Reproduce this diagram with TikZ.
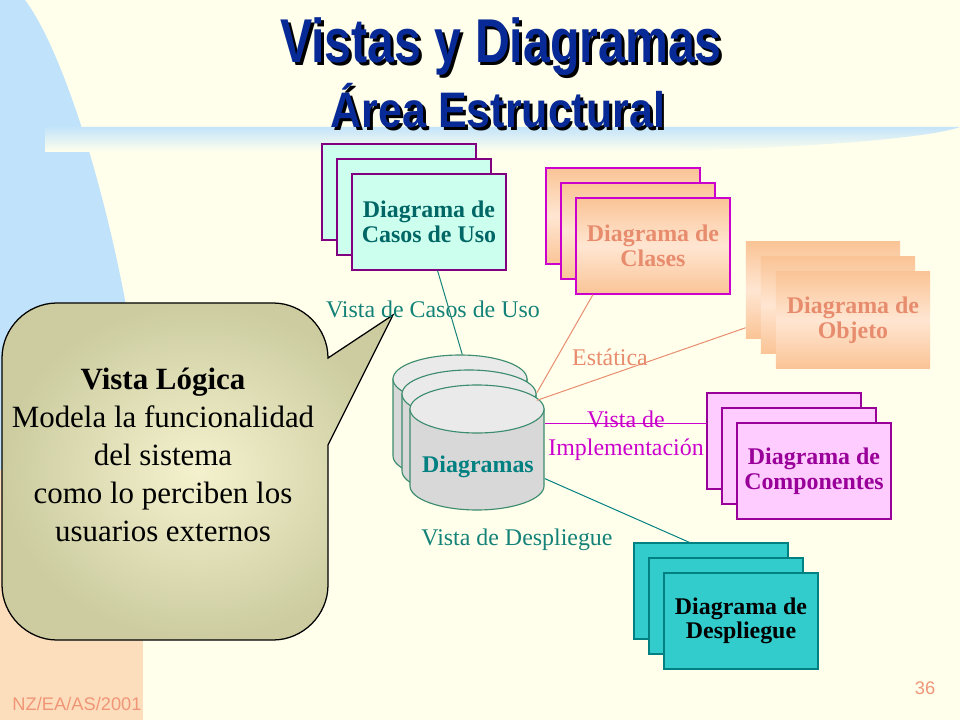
\documentclass[tikz,border=0pt]{standalone}
\usepackage{fontspec}
\setmainfont{Liberation Serif}
\newfontfamily\titlefont{Liberation Sans}
\definecolor{bgcream}{RGB}{255,255,236}
\definecolor{sideblue}{RGB}{192,226,250}
\definecolor{sidepeach}{RGB}{253,222,188}
\definecolor{bandblue}{RGB}{196,228,250}
\definecolor{titleblue}{RGB}{8,42,150}
\definecolor{bubdark}{RGB}{204,204,160}
\definecolor{bublight}{RGB}{244,242,206}
\definecolor{usofill}{RGB}{204,255,238}
\definecolor{usotext}{RGB}{0,102,102}
\definecolor{boxpurple}{RGB}{128,0,128}
\definecolor{clapeach}{RGB}{250,196,150}
\definecolor{clalight}{RGB}{255,230,210}
\definecolor{clatext}{RGB}{232,140,110}
\definecolor{claline}{RGB}{204,0,204}
\definecolor{compink}{RGB}{255,204,255}
\definecolor{comtext}{RGB}{153,0,153}
\definecolor{desteal}{RGB}{51,204,204}
\definecolor{desline}{RGB}{0,128,128}
\definecolor{vistateal}{RGB}{20,130,120}
\definecolor{cylline}{RGB}{60,140,110}
\definecolor{cylbody}{RGB}{216,216,216}
\definecolor{cylend}{RGB}{234,234,234}
\definecolor{salmon}{RGB}{240,150,120}
\newcommand{\shadowtext}[1]{\rlap{\kern2.1pt\raisebox{-2.1pt}{\color{black}#1}}#1}

\begin{document}
\begin{tikzpicture}[x=0.025cm, y=-0.025cm,
    stackbox/.style={minimum width=3.85cm, minimum height=2.4cm, inner sep=0pt, align=center,
      font=\fontsize{17}{17.5}\selectfont\bfseries},
    usobox/.style={stackbox, fill=usofill, draw=boxpurple, line width=0.9pt, text=usotext},
    clabox/.style={stackbox, top color=clapeach, bottom color=clapeach, middle color=clalight,
      draw=claline, line width=0.9pt, text=clatext},
    objbox/.style={stackbox, top color=clapeach, bottom color=clapeach, middle color=clalight, text=clatext},
    combox/.style={stackbox, fill=compink, draw=comtext, line width=0.9pt, text=comtext},
    desbox/.style={stackbox, fill=desteal, draw=desline, line width=0.9pt, text=black},
    cylframe/.style={minimum width=3.375cm, minimum height=3.125cm, inner sep=0pt},
    cylpaint/.style={draw=cylline, fill=cylbody, line width=0.8pt},
    vista/.style={font=\fontsize{17}{20}\selectfont, align=center, inner sep=0pt},
    heading/.style={anchor=base, inner sep=0pt, text=titleblue},
    link/.style={line width=0.7pt},
  ]
  \useasboundingbox (0,0) rectangle (960,720);
  \fill[bgcream] (0,0) rectangle (960,720);
  \fill[sideblue] (0,0) -- (25,0) .. controls (70,60) and (125,250) .. (143,420) -- (143,480) -- (0,480) -- cycle;
  \fill[sidepeach] (0,470) rectangle (143,720);
  \shade[top color=bandblue, bottom color=bgcream] (45,127) -- (960,127)
    .. controls (930,138) and (800,150) .. (600,152) -- (45,152) -- cycle;

  \node[heading, font=\titlefont\bfseries\fontsize{44}{50}\selectfont] (title) at (501,63)
    {\shadowtext{\scalebox{0.78}[1]{Vistas y Diagramas}}};
  \node[heading, font=\titlefont\bfseries\fontsize{35.5}{40}\selectfont] (subtitle) at (498,128)
    {\shadowtext{\scalebox{0.86}[1]{Área Estructural}}};

  \draw[line width=0.9pt, inner color=bublight, outer color=bubdark]
    (393,315) -- (328,445) -- (328,585) .. controls (328,615) and (303,640) .. (273,640)
    -- (57,640) .. controls (27,640) and (2,615) .. (2,585)
    -- (2,358) .. controls (2,328) and (27,303) .. (57,303)
    -- (273,303) .. controls (303,303) and (328,328) .. (328,358) -- cycle;
  \node[align=center, font=\fontsize{22}{27}\selectfont] (logica) at (163,455)
    {\textbf{Vista Lógica}\\Modela la funcionalidad\\del sistema\\como lo perciben los\\usuarios externos};

  \foreach \i/\d in {1/0,2/15} {
    \node[usobox] (uso\i) at (399+\d,192+\d) {};
    \node[clabox] (cla\i) at (623+\d,216+\d) {};
    \node[objbox] (obj\i) at (823+\d,290+\d) {};
    \node[combox] (com\i) at (784+\d,441+\d) {};
    \node[desbox] (des\i) at (711+\d,591+\d) {};
  }
  \node[usobox] (uso3) at (429,222) {Diagrama de\\Casos de Uso};
  \node[clabox] (cla3) at (653,246) {Diagrama de\\Clases};
  \node[objbox] (obj3) at (853,320) {Diagrama de\\Objeto};
  \node[combox] (com3) at (814,471) {Diagrama de\\Componentes};
  \node[desbox] (des3) at (741,621) {Diagrama de\\Despliegue};

  \foreach \x/\y [count=\i] in {460/417,469/432,477/447} {
    \node[cylframe] (cyl\i) at (\x,\y) {};
    \filldraw[cylpaint] (\x-67,\y-38) -- (\x-67,\y+39)
      .. controls (\x-67,\y+52) and (\x-37,\y+63) .. (\x,\y+63)
      .. controls (\x+37,\y+63) and (\x+67,\y+52) .. (\x+67,\y+39) -- (\x+67,\y-38) -- cycle;
    \filldraw[cylpaint, fill=cylend] (\x,\y-38) ellipse (67 and 24);
  }
  \node[font=\fontsize{17}{20}\selectfont\bfseries, text=desline] (diagtxt) at (478,467) {Diagramas};

  \node[vista, text=vistateal] (vuso) at (433,309) {Vista de Casos de Uso};
  \node[vista, text=clatext] (vest) at (610,357) {Estática};
  \node[vista, text=claline] (vimp) at (626,436) {Vista de\\Implementación};
  \node[vista, text=vistateal] (vdes) at (517,540) {Vista de Despliegue};

  \draw[link, vistateal] (uso3.280) -- (cyl1.88);
  \draw[link, clatext] (cla3.219) -- (cyl2.30);
  \draw[link, clatext] (obj1.206) -- (cyl2.25);
  \draw[link, claline] (cyl3.19) -- (cyl3.19 -| com1.west);
  \draw[link, desline] (cyl3.335) -- (des1.114);

  \node[font=\titlefont\fontsize{13}{15}\selectfont, text=salmon] (pagenum) at (925,688) {36};
  \node[font=\titlefont\fontsize{13}{15}\selectfont, text=salmon] (footer) at (77,704) {NZ/EA/AS/2001};
\end{tikzpicture}
\end{document}
